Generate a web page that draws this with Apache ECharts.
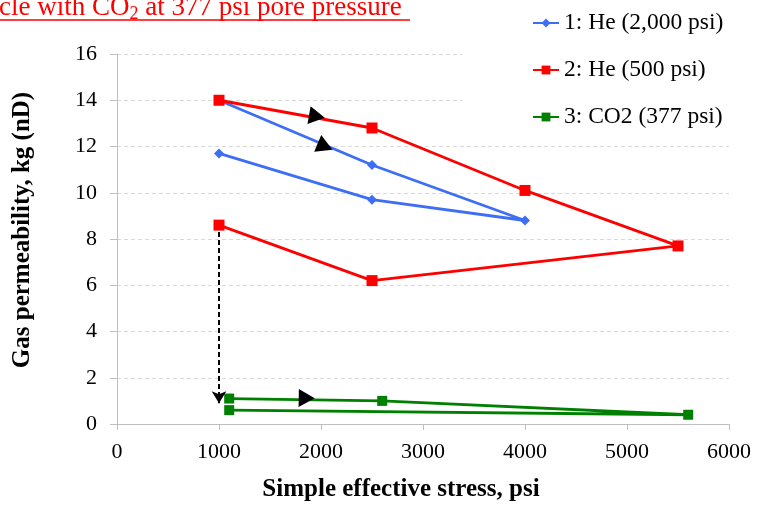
<!DOCTYPE html>
<html lang="en">
<head>
    <meta charset="UTF-8">
    <title>Gas permeability</title>
    <script src="https://cdn.jsdelivr.net/npm/echarts@6/dist/echarts.min.js"></script>
    <style>
        html, body { margin: 0; padding: 0; background: #fff; }
        #main { width: 758px; height: 505px; }
    </style>
</head>
<body>
<div id="main"></div>
<script type="text/javascript">
    // stress (psi) and permeability (nD), in the order the cycle was run
    var heHighX = [1000, 2500, 4000, 2500, 1000];
    var heHighY = [14.0, 11.2, 8.8, 9.7, 11.7];

    var heLowX = [1000, 2500, 4000, 5500, 2500, 1000];
    var heLowY = [14.0, 12.8, 10.1, 7.7, 6.2, 8.6];

    var co2X = [1100, 2600, 5600, 1100];
    var co2Y = [1.1, 1.0, 0.4, 0.6];

    var seriesNames = ['1: He (2,000 psi)', '2: He (500 psi)', '3: CO2 (377 psi)'];

    // direction arrows drawn on the curves: [x, y, rotation]
    var arrowMarks = [[1960, 13.3, -100], [2040, 12.0, -113], [1860, 1.12, -91]];

    // dashed arrow from the last He point down to the CO2 run
    var dropFrom = [1000, 8.3];
    var dropTo = [1000, 0.9];

    function pairs(xs, ys) {
        return xs.map(function (x, i) { return [x, ys[i]]; });
    }

    var serif = 'Liberation Serif, Times New Roman, serif';
    var chart = echarts.init(document.getElementById('main'));

    var option = {
        backgroundColor: '#fff',
        animation: false,
        title: {
            left: -1,
            top: -7,
            padding: 0,
            text: '{a|cle with CO}{s|2}{a| at 377 psi pore pressure}',
            textStyle: {
                rich: {
                    a: { fontFamily: serif, fontSize: 27, fontWeight: 'normal', color: '#ff0000' },
                    s: { fontFamily: serif, fontSize: 18, fontWeight: 'normal', color: '#ff0000', padding: [12, 0, 0, 0] }
                }
            }
        },
        graphic: [
            {
                type: 'rect', z: 1, silent: true,
                shape: { x: 462, y: 35, width: 296, height: 100 },
                style: { fill: '#fff' }
            },
            {
                type: 'line', silent: true,
                shape: { x1: 0, y1: 20, x2: 410, y2: 20 },
                style: { stroke: '#ff0000', lineWidth: 1.3 }
            }
        ],
        legend: {
            data: seriesNames,
            orient: 'vertical',
            left: 527,
            top: 6,
            itemGap: 23,
            itemWidth: 26,
            itemHeight: 11,
            textStyle: { fontFamily: serif, fontSize: 23.5, color: '#000' }
        },
        grid: { left: 117, right: 29, top: 54, bottom: 81, outerBoundsMode: 'none' },
        xAxis: {
            type: 'value',
            min: 0, max: 6000, interval: 1000,
            name: 'Simple effective stress, psi',
            nameLocation: 'middle',
            nameGap: 53,
            nameTextStyle: { fontFamily: serif, fontSize: 25, fontWeight: 'bold', color: '#000', padding: [0, 44, 0, 0] },
            axisLine: { lineStyle: { color: '#bfbfbf', width: 1 } },
            axisTick: { show: true, length: 6, lineStyle: { color: '#bfbfbf' } },
            axisLabel: {
                fontFamily: serif, fontSize: 22, color: '#000', margin: 17,
                formatter: function (v) { return String(v); }
            },
            splitLine: { show: false }
        },
        yAxis: {
            type: 'value',
            min: 0, max: 16, interval: 2,
            name: 'Gas permeability, kg (nD)',
            nameLocation: 'middle',
            nameGap: 82,
            nameTextStyle: { fontFamily: serif, fontSize: 25, fontWeight: 'bold', color: '#000', padding: [0, 0, 0, 18] },
            axisLine: { show: true, lineStyle: { color: '#bfbfbf', width: 1 } },
            axisTick: { show: true, length: 7, lineStyle: { color: '#bfbfbf' } },
            axisLabel: { fontFamily: serif, fontSize: 22, color: '#000', margin: 20 },
            splitLine: { show: true, lineStyle: { color: '#d9d9d9', type: [4, 3], width: 1 } }
        },
        series: [
            {
                name: seriesNames[0],
                type: 'line',
                data: pairs(heHighX, heHighY),
                symbol: 'diamond',
                symbolSize: 10,
                color: '#3d6ef5',
                lineStyle: { width: 2.8, color: '#3d6ef5' },
                z: 3
            },
            {
                name: seriesNames[1],
                type: 'line',
                data: pairs(heLowX, heLowY),
                symbol: 'rect',
                symbolSize: 11,
                color: '#ff0000',
                lineStyle: { width: 2.8, color: '#ff0000' },
                z: 3,
                markLine: {
                    silent: true,
                    symbol: ['none', 'arrow'],
                    symbolSize: [11, 12],
                    label: { show: false },
                    lineStyle: { color: '#000', type: [5, 3], width: 2 },
                    data: [[{ coord: dropFrom }, { coord: dropTo }]]
                }
            },
            {
                name: seriesNames[2],
                type: 'line',
                data: pairs(co2X, co2Y),
                symbol: 'rect',
                symbolSize: 10,
                color: '#008000',
                lineStyle: { width: 2.8, color: '#008000' },
                z: 3
            },
            {
                type: 'scatter',
                data: arrowMarks.map(function (a) {
                    return { value: [a[0], a[1]], symbolRotate: a[2] };
                }),
                symbol: 'triangle',
                symbolSize: [18, 16],
                itemStyle: { color: '#000', opacity: 1 },
                silent: true,
                z: 4
            }
        ]
    };

    chart.setOption(option);
</script>
</body>
</html>
